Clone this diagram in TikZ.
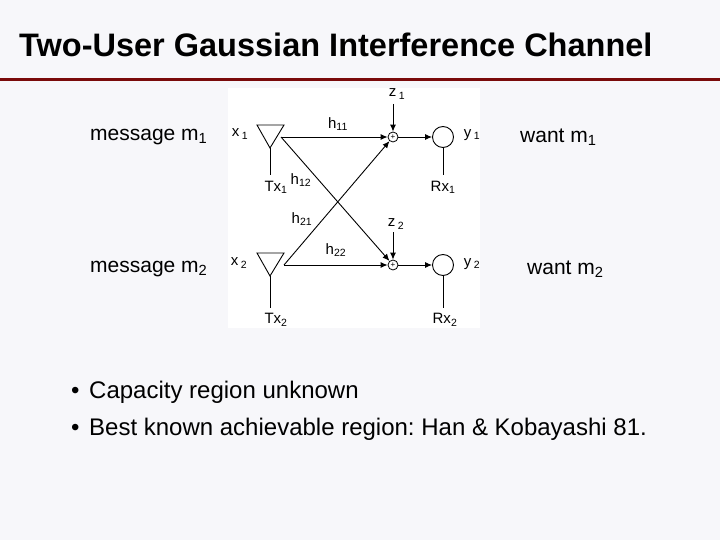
\documentclass[tikz,border=0pt]{standalone}
\usepackage{fontspec}
\setmainfont{Liberation Sans}
\usetikzlibrary{arrows.meta}
\definecolor{bg}{HTML}{F7F7FA}
\definecolor{bar}{HTML}{7A0A0A}
\newcommand{\sbs}[1]{\textsubscript{#1}}
\frenchspacing
\begin{document}
\begin{tikzpicture}[x=1pt,y=-1pt,
  lbl/.style={font=\fontsize{15}{17}\selectfont,inner sep=0pt},
  txt/.style={font=\fontsize{21}{24}\selectfont,inner sep=0pt},
  arr/.style={draw,-{Latex[length=7pt,width=6pt]},line width=0.9pt},
  ln/.style={draw,line width=0.9pt},
  bul/.style={font=\fontsize{24}{28}\selectfont,inner sep=0pt,anchor=base west}]
\fill[bg] (0,0) rectangle (720,540);
\useasboundingbox (0,0) rectangle (720,540);
\node[inner sep=0pt,anchor=west,font=\fontsize{32.5}{36}\selectfont\bfseries] (title) at (19,45) {Two-User Gaussian Interference Channel};
\fill[bar] (0,78) rectangle (720,81);
\fill[white] (228,88) rectangle (480,328);
% transmitters
\draw[ln] (257,125) -- (284,125) -- (270,148) -- cycle;
\draw[ln] (270,148) -- (270,175);
\draw[ln] (257,253) -- (284,253) -- (270,276) -- cycle;
\draw[ln] (270,276) -- (270,308);
\coordinate (t1) at (281,137);
\coordinate (t2) at (284,265);
\node[draw,circle,minimum size=10pt,inner sep=0pt,line width=0.8pt,font=\fontsize{8}{8}\selectfont] (p1) at (393,137) {+};
\node[draw,circle,minimum size=10pt,inner sep=0pt,line width=0.8pt,font=\fontsize{8}{8}\selectfont] (p2) at (393,265) {+};
\node[draw,circle,minimum size=21pt,inner sep=0pt,line width=0.9pt] (r1) at (443,137) {};
\node[draw,circle,minimum size=21pt,inner sep=0pt,line width=0.9pt] (r2) at (443,265) {};
\coordinate (r1b) at (443,175);
\coordinate (r2b) at (443,308);
\draw[ln] (r1.south) -- (r1b);
\draw[ln] (r2.south) -- (r2b);
\path[arr] (t1) -- (p1);
\path[arr] (t2) -- (p2);
\path[arr] (t1) -- (p2);
\path[arr] (t2) -- (p1);
\path[arr] (p1) -- (r1);
\path[arr] (p2) -- (r2);
\node[lbl] (z1) at (397,94) {z\,\sbs{1}};
\node[lbl] (z2) at (396,224) {z\,\sbs{2}};
\coordinate (z1s) at (393,104);
\path[arr] (z1s) -- (p1);
\coordinate (z2s) at (393,232);
\path[arr] (z2s) -- (p2);
\node[lbl] (x1) at (240,134) {x\,\sbs{1}};
\node[lbl] (x2) at (239,263) {x\,\sbs{2}};
\node[lbl] (y1) at (472,135) {y\,\sbs{1}};
\node[lbl] (y2) at (472,264) {y\,\sbs{2}};
\node[lbl] (tx1) at (276,187) {Tx\sbs{1}};
\node[lbl] (tx2) at (276,320) {Tx\sbs{2}};
\node[lbl] (rx1) at (443,187) {Rx\sbs{1}};
\node[lbl] (rx2) at (445,320) {Rx\sbs{2}};
\node[lbl] (h11) at (338,124) {h\sbs{11}};
\node[lbl] (h12) at (301,180) {h\sbs{12}};
\node[lbl] (h21) at (302,219) {h\sbs{21}};
\node[lbl] (h22) at (336,250) {h\sbs{22}};
\node[txt,anchor=west] (m1) at (90,137) {message m\sbs{1}};
\node[txt,anchor=west] (m2) at (90,269) {message m\sbs{2}};
\node[txt,anchor=west] (w1) at (520,137) {want m\sbs{1}};
\node[txt,anchor=west] (w2) at (527,269) {want m\sbs{2}};
\node[bul] (b1) at (89,398) {Capacity region unknown};
\node[bul] (b2) at (89,435) {Best known achievable region: Han \& Kobayashi 81.};
\node[bul] (d1) at (71,398) {•};
\node[bul] (d2) at (71,435) {•};
\end{tikzpicture}
\end{document}
